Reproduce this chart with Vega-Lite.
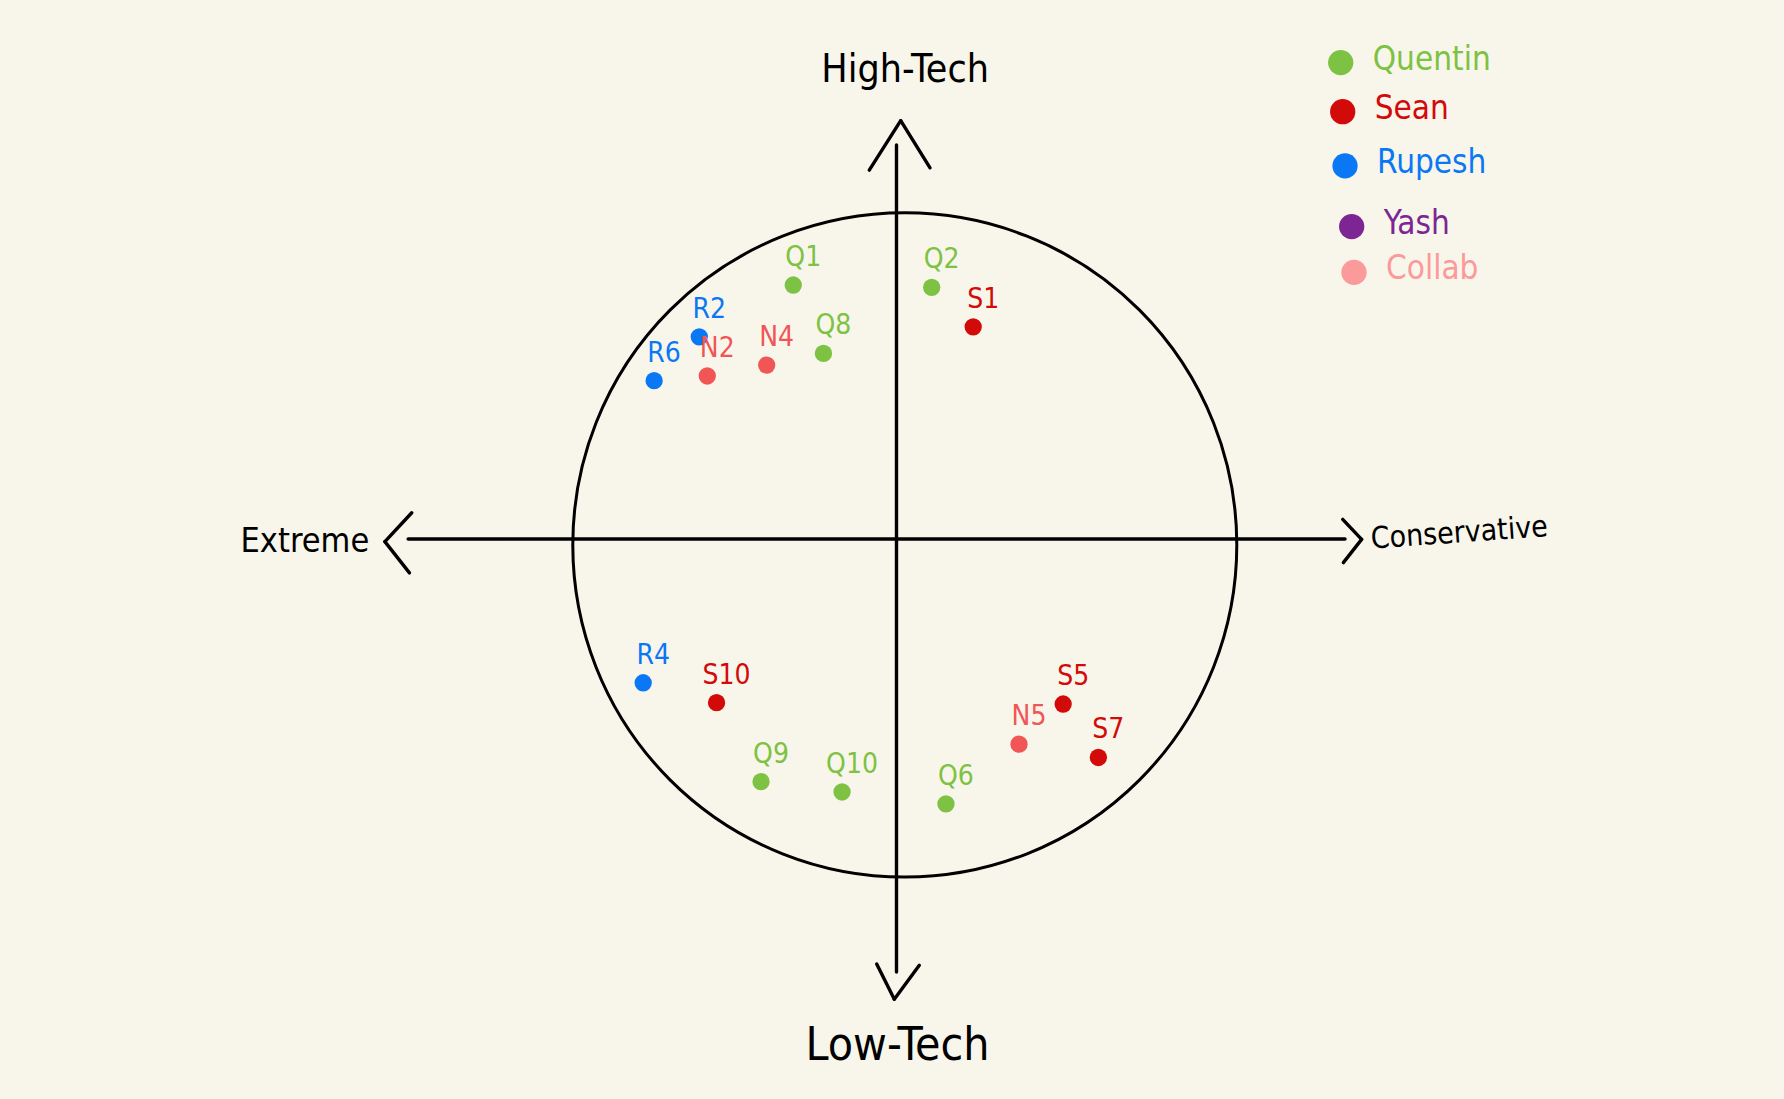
{
  "$schema": "https://vega.github.io/schema/vega-lite/v6.json",
  "width": 1784,
  "height": 1099,
  "autosize": {"type": "fit", "contains": "padding"},
  "padding": 0,
  "background": "#f8f6eb",
  "config": {
    "view": {"stroke": null},
    "text": {"font": "Liberation Sans Narrow, DejaVu Sans Condensed, Lato, sans-serif"}
  },
  "datasets": {
    "circle": [{"x": 0.25, "y": -0.18}],
    "segments": [
      {"x": -14.71, "y": 0, "x2": 13.51, "y2": 0},
      {"x": 0, "y": 11.87, "x2": 0, "y2": -13.04},
      {"x": 0.127, "y": 12.6, "x2": -0.82, "y2": 11.11},
      {"x": 0.127, "y": 12.6, "x2": 1.01, "y2": 11.18},
      {"x": -0.066, "y": -13.86, "x2": -0.596, "y2": -12.8},
      {"x": -0.066, "y": -13.86, "x2": 0.687, "y2": -12.84},
      {"x": -15.41, "y": -0.08, "x2": -14.6, "y2": 0.79},
      {"x": -15.41, "y": -0.08, "x2": -14.67, "y2": -1.02},
      {"x": 14.01, "y": -0.01, "x2": 13.44, "y2": 0.59},
      {"x": 14.01, "y": -0.01, "x2": 13.46, "y2": -0.71}
    ],
    "pts": [
      {"id": "Q1", "who": "Quentin", "x": -3.11, "y": 7.65},
      {"id": "Q2", "who": "Quentin", "x": 1.06, "y": 7.58},
      {"id": "Q8", "who": "Quentin", "x": -2.2, "y": 5.59},
      {"id": "R2", "who": "Rupesh", "x": -5.94, "y": 6.09},
      {"id": "R6", "who": "Rupesh", "x": -7.3, "y": 4.77},
      {"id": "N2", "who": "Collab", "x": -5.7, "y": 4.91},
      {"id": "N4", "who": "Collab", "x": -3.91, "y": 5.24},
      {"id": "S1", "who": "Sean", "x": 2.31, "y": 6.39},
      {"id": "R4", "who": "Rupesh", "x": -7.63, "y": -4.33},
      {"id": "S10", "who": "Sean", "x": -5.42, "y": -4.93},
      {"id": "Q9", "who": "Quentin", "x": -4.08, "y": -7.31},
      {"id": "Q10", "who": "Quentin", "x": -1.64, "y": -7.62},
      {"id": "Q6", "who": "Quentin", "x": 1.49, "y": -7.98},
      {"id": "N5", "who": "Collab", "x": 3.69, "y": -6.18},
      {"id": "S5", "who": "Sean", "x": 5.02, "y": -4.97},
      {"id": "S7", "who": "Sean", "x": 6.08, "y": -6.58}
    ],
    "legend": [
      {"name": "Quentin", "x": 13.38, "y": 14.35},
      {"name": "Sean", "x": 13.44, "y": 12.87},
      {"name": "Rupesh", "x": 13.51, "y": 11.24},
      {"name": "Yash", "x": 13.71, "y": 9.41},
      {"name": "Collab", "x": 13.78, "y": 8.03}
    ],
    "axislabels": [
      {"label": "High-Tech", "x": 0.26, "y": 13.77},
      {"label": "Low-Tech", "x": 0.03, "y": -15.69},
      {"label": "Extreme", "x": -17.82, "y": -0.39},
      {"label": "Conservative", "x": 16.97, "y": -0.1}
    ]
  },
  "layer": [
    {
      "data": {"name": "circle"},
      "mark": {"type": "point", "shape": "circle", "filled": false, "size": 440896, "color": "#000000", "strokeWidth": 3, "opacity": 1},
      "encoding": {
        "x": {"field": "x", "type": "quantitative", "scale": {"domain": [-27.003, 26.732], "nice": false, "zero": false}, "axis": null},
        "y": {"field": "y", "type": "quantitative", "scale": {"domain": [-16.867, 16.235], "nice": false, "zero": false}, "axis": null}
      }
    },
    {
      "data": {"name": "segments"},
      "mark": {"type": "rule", "color": "#000000", "strokeWidth": 3.4, "strokeCap": "round"},
      "encoding": {
        "x": {"field": "x", "type": "quantitative"},
        "y": {"field": "y", "type": "quantitative"},
        "x2": {"field": "x2"},
        "y2": {"field": "y2"}
      }
    },
    {
      "data": {"name": "pts"},
      "mark": {"type": "circle", "size": 300, "opacity": 1},
      "encoding": {
        "x": {"field": "x", "type": "quantitative"},
        "y": {"field": "y", "type": "quantitative"},
        "color": {"field": "who", "type": "nominal", "scale": {"domain": ["Quentin", "Sean", "Rupesh", "Collab"], "range": ["#7dc242", "#d20a0a", "#0a78f5", "#f05656"]}, "legend": null}
      }
    },
    {
      "data": {"name": "pts"},
      "mark": {"type": "text", "fontSize": 28, "dx": 10, "dy": -27, "align": "center", "baseline": "middle"},
      "encoding": {
        "x": {"field": "x", "type": "quantitative"},
        "y": {"field": "y", "type": "quantitative"},
        "text": {"field": "id"},
        "color": {"field": "who", "type": "nominal", "scale": {"domain": ["Quentin", "Sean", "Rupesh", "Collab"], "range": ["#7dc242", "#d20a0a", "#0a78f5", "#f05656"]}, "legend": null}
      }
    },
    {
      "data": {"name": "legend"},
      "mark": {"type": "circle", "size": 640, "opacity": 1},
      "encoding": {
        "x": {"field": "x", "type": "quantitative"},
        "y": {"field": "y", "type": "quantitative"},
        "color": {"field": "name", "type": "nominal", "scale": {"domain": ["Quentin", "Sean", "Rupesh", "Yash", "Collab"], "range": ["#7dc242", "#d20a0a", "#0a78f5", "#7d2593", "#fb9a9a"]}, "legend": null}
      }
    },
    {
      "data": {"name": "legend"},
      "mark": {"type": "text", "fontSize": 33, "dx": 32, "dy": -3, "align": "left", "baseline": "middle"},
      "encoding": {
        "x": {"field": "x", "type": "quantitative"},
        "y": {"field": "y", "type": "quantitative"},
        "text": {"field": "name"},
        "color": {"field": "name", "type": "nominal", "scale": {"domain": ["Quentin", "Sean", "Rupesh", "Yash", "Collab"], "range": ["#7dc242", "#d20a0a", "#0a78f5", "#7d2593", "#fb9a9a"]}, "legend": null}
      }
    },
    {
      "data": {"name": "axislabels"},
      "transform": [{"filter": "datum.label === 'High-Tech'"}],
      "mark": {"type": "text", "fontSize": 39, "align": "center", "baseline": "alphabetic", "color": "#000000"},
      "encoding": {
        "x": {"field": "x", "type": "quantitative"},
        "y": {"field": "y", "type": "quantitative"},
        "text": {"field": "label"}
      }
    },
    {
      "data": {"name": "axislabels"},
      "transform": [{"filter": "datum.label === 'Low-Tech'"}],
      "mark": {"type": "text", "fontSize": 46, "align": "center", "baseline": "alphabetic", "color": "#000000"},
      "encoding": {
        "x": {"field": "x", "type": "quantitative"},
        "y": {"field": "y", "type": "quantitative"},
        "text": {"field": "label"}
      }
    },
    {
      "data": {"name": "axislabels"},
      "transform": [{"filter": "datum.label === 'Extreme'"}],
      "mark": {"type": "text", "fontSize": 34, "align": "center", "baseline": "alphabetic", "color": "#000000"},
      "encoding": {
        "x": {"field": "x", "type": "quantitative"},
        "y": {"field": "y", "type": "quantitative"},
        "text": {"field": "label"}
      }
    },
    {
      "data": {"name": "axislabels"},
      "transform": [{"filter": "datum.label === 'Conservative'"}],
      "mark": {"type": "text", "fontSize": 30, "align": "center", "baseline": "alphabetic", "angle": -4, "color": "#000000"},
      "encoding": {
        "x": {"field": "x", "type": "quantitative"},
        "y": {"field": "y", "type": "quantitative"},
        "text": {"field": "label"}
      }
    }
  ],
  "resolve": {"scale": {"color": "independent"}}
}
